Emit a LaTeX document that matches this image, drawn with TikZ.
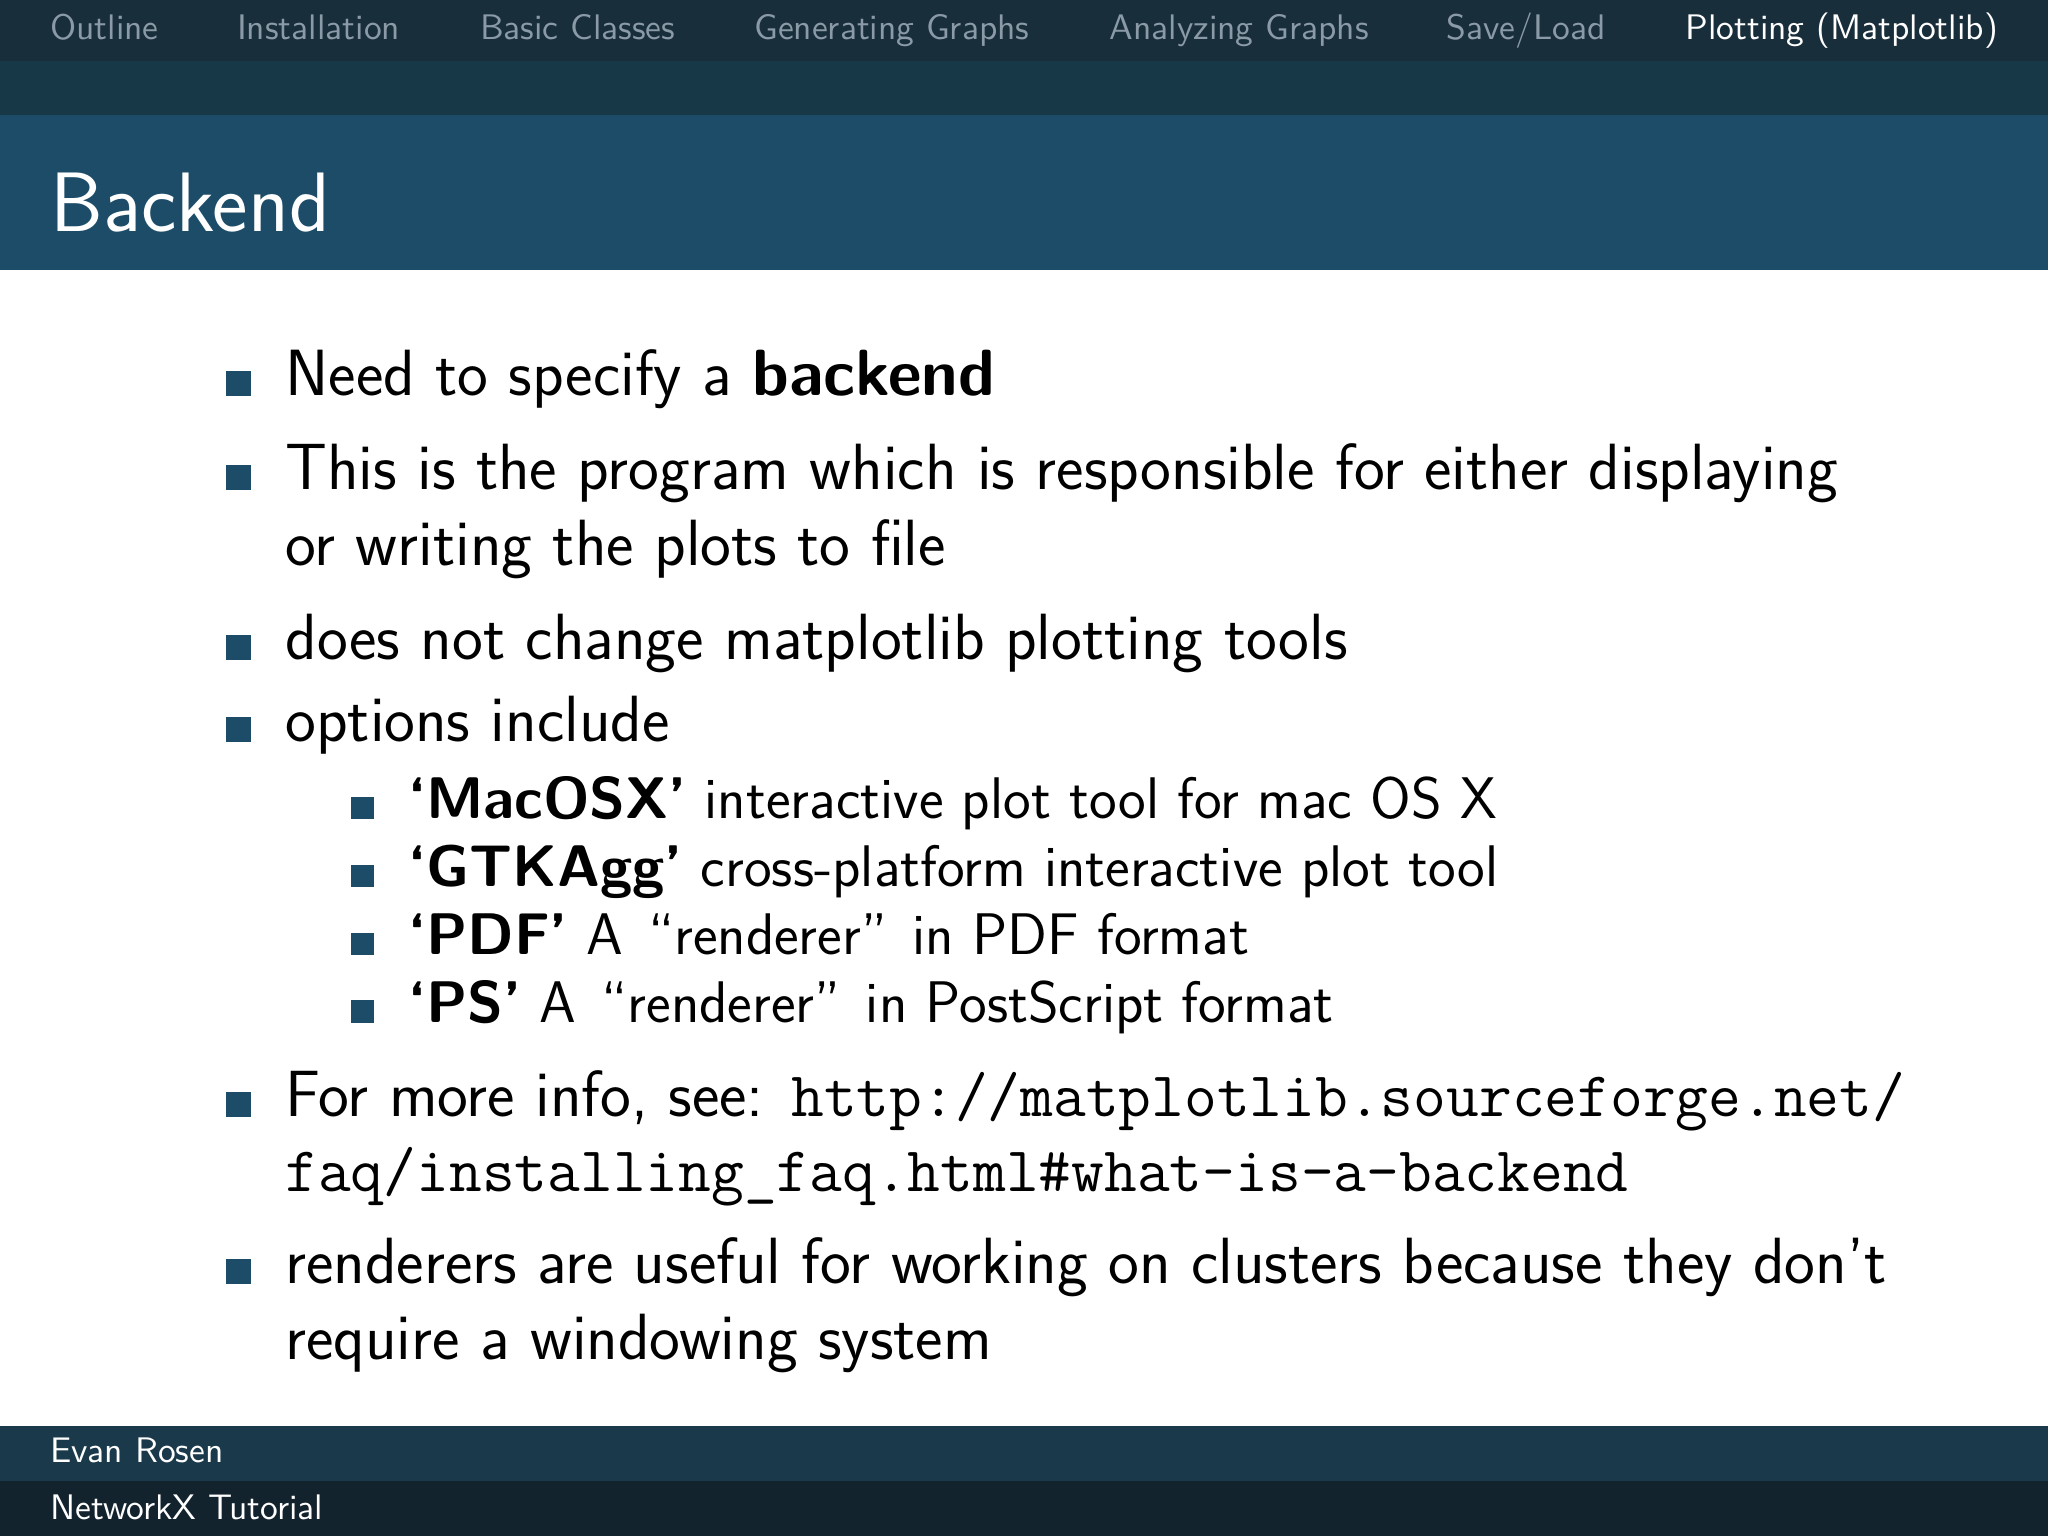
\documentclass[tikz,border=0pt]{standalone}
\usepackage{fontspec}
\definecolor{navbg}{HTML}{192E3B}
\definecolor{band}{HTML}{163847}
\definecolor{titlebg}{HTML}{1D4C68}
\definecolor{footA}{HTML}{1A3A4C}
\definecolor{footB}{HTML}{13232E}
\definecolor{navgrey}{HTML}{8A9AA6}
\tikzset{
 txt/.style={anchor=base west,inner sep=0pt,font=\sffamily\fontsize{18.6}{21}\selectfont},
 subtxt/.style={txt,font=\sffamily\fontsize{16.7}{19}\selectfont},
 nav/.style={anchor=base west,inner sep=0pt,font=\sffamily\fontsize{10.1}{12}\selectfont,text=navgrey},
 bul/.style={fill=titlebg},
}
\newcommand{\urlfnt}{\fontsize{18.1}{21}\selectfont\ttfamily}
\newcommand{\wsp}{\ \hspace{0.12em}}
\begin{document}
\begin{tikzpicture}[x=0.013061cm,y=-0.013061cm]
\useasboundingbox (0,0) rectangle (1568,1176);
\fill[white] (0,0) rectangle (1568,1176);
\fill[navbg] (0,0) rectangle (1568,47);
\fill[band] (0,47) rectangle (1568,88);
\fill[titlebg] (0,88) rectangle (1568,207);
\fill[footA] (0,1092) rectangle (1568,1134);
\fill[footB] (0,1134) rectangle (1568,1176);
% nav
\node[nav] (n1) at (38,30) {Outline};
\node[nav] (n2) at (181,30) {Installation};
\node[nav] (n3) at (367,30) {Basic Classes};
\node[nav] (n4) at (577,30) {Generating Graphs};
\node[nav] (n5) at (849,30) {Analyzing Graphs};
\node[nav] (n6) at (1107,30) {Save/Load};
\node[nav,text=white] (n7) at (1290,30) {Plotting (Matplotlib)};
\node[anchor=base west,inner sep=0pt,text=white,font=\sffamily\fontsize{24}{28}\selectfont] (title) at (38,177) {Backend};
% bullets
\foreach \y in {303,375,505,568,855,983}{\fill[bul] (173,\y-19) rectangle +(19,19);}
\foreach \y in {627,679,731,783}{\fill[bul] (269,\y-17) rectangle +(17,17);}
\node[txt] (t1) at (218,303) {Need to specify a \textbf{backend}};
\node[txt] (t2) at (218,375) {This is the program which is responsible for either displaying};
\node[txt] (t2b) at (218,433) {or writing the plots to file};
\node[txt] (t3) at (218,505) {does not change matplotlib plotting tools};
\node[txt] (t4) at (218,568) {options include};
\node[subtxt] (s1) at (312,627) {\textbf{`MacOSX'} interactive plot tool for mac OS X};
\node[subtxt] (s2) at (312,679) {\textbf{`GTKAgg'} cross-platform interactive plot tool};
\node[subtxt] (s3) at (312,731) {\textbf{`PDF'} A\wsp``renderer''\wsp in PDF format};
\node[subtxt] (s4) at (312,783) {\textbf{`PS'} A\wsp``renderer''\wsp in PostScript format};
\node[txt] (t5) at (218,855) {For more info, see: {\urlfnt http://matplotlib.sourceforge.net/}};
\node[txt] (t5b) at (218,912) {{\urlfnt faq/installing\_faq.html\#what-is-a-backend}};
\node[txt] (t6) at (218,983) {renderers are useful for working on clusters because they don't};
\node[txt] (t6b) at (218,1041) {require a windowing system};
\node[nav,text=white] (f1) at (38,1120) {Evan Rosen};
\node[nav,text=white] (f2) at (38,1163) {NetworkX Tutorial};
\end{tikzpicture}
\end{document}
